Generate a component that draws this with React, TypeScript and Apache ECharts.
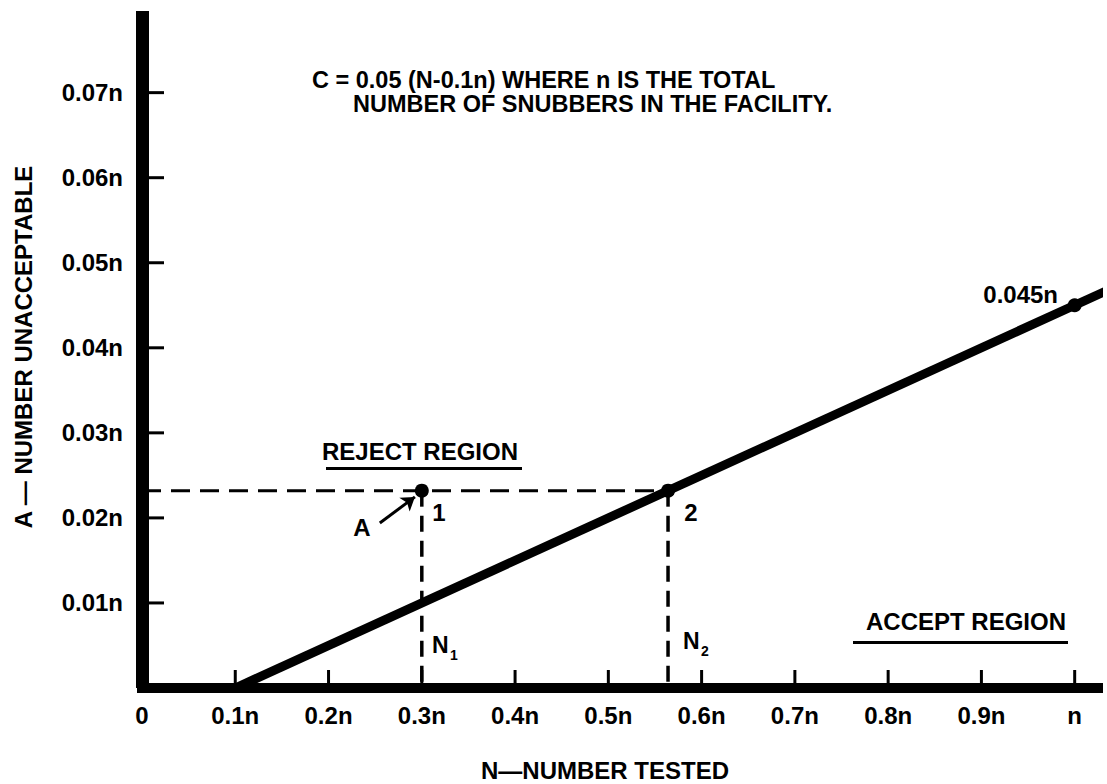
import React, { useEffect, useRef } from "react";
import * as echarts from "echarts";

// ---- data ----
const xTickValues = [0, 0.1, 0.2, 0.3, 0.4, 0.5, 0.6, 0.7, 0.8, 0.9, 1.0];
const xTickLabels = ["0", "0.1n", "0.2n", "0.3n", "0.4n", "0.5n", "0.6n", "0.7n", "0.8n", "0.9n", "n"];
const yTickValues = [0.01, 0.02, 0.03, 0.04, 0.05, 0.06, 0.07];
const yTickLabels = ["0.01n", "0.02n", "0.03n", "0.04n", "0.05n", "0.06n", "0.07n"];

// C = 0.05 (N - 0.1n): acceptance line end points
const lineX = [0.1, 1.06];
const lineY = [0, 0.048];

// marked points: 1 (A at N1), 2 (on line at N2), 0.045n at N = n
const pointX = [0.3, 0.564, 1.0];
const pointY = [0.0232, 0.0232, 0.045];

// arrow from label "A" to point 1
const arrowFrom = [0.255, 0.0194];
const arrowTo = [0.2926, 0.02247];

const FONT = '"Liberation Sans", Arial, Helvetica, sans-serif';
const INK = "#000";

function txt(text: string, x: number, y: number, size: number, align = "left", extra: any = {}) {
  return {
    type: "text",
    x,
    y,
    silent: true,
    ...extra,
    style: {
      text,
      fill: INK,
      fontFamily: FONT,
      fontWeight: "bold",
      fontSize: size,
      align,
      textAlign: align,
      verticalAlign: "middle",
      textVerticalAlign: "middle",
    },
  };
}

export default function App() {
  const ref = useRef<HTMLDivElement>(null);
  useEffect(() => {
    if (!ref.current) return;
    const chart = echarts.init(ref.current, undefined, { renderer: "svg" });

    const labelIndex = (v: number, step: number) => {
      const k = Math.round(v / step);
      return Math.abs(v / step - k) < 1e-6 ? k : -1;
    };

    const option: any = {
      animation: false,
      backgroundColor: "#fff",
      grid: { left: 142, right: 9, top: 11, bottom: 96, outerBoundsMode: "none", containLabel: false },
      xAxis: {
        type: "value",
        min: 0,
        max: 1.025,
        interval: 0.1,
        axisLine: { show: true, onZero: false, lineStyle: { color: INK, width: 10, cap: "square" } },
        axisTick: { show: false },
        splitLine: { show: false },
        axisLabel: {
          color: INK,
          fontFamily: FONT,
          fontWeight: "bold",
          fontSize: 24,
          margin: 15,
          showMaxLabel: false,
          formatter: (v: number) => {
            const k = labelIndex(v, 0.1);
            return k >= 0 && k < xTickLabels.length ? xTickLabels[k] : "";
          },
        },
      },
      yAxis: {
        type: "value",
        min: 0,
        max: 0.0796,
        interval: 0.01,
        axisLine: { show: true, onZero: false, lineStyle: { color: INK, width: 13, cap: "butt" } },
        axisTick: { show: false },
        splitLine: { show: false },
        axisLabel: {
          color: INK,
          fontFamily: FONT,
          fontWeight: "bold",
          fontSize: 24,
          margin: 19,
          showMaxLabel: false,
          formatter: (v: number) => {
            const k = labelIndex(v, 0.01);
            return k >= 1 && k <= yTickLabels.length ? yTickLabels[k - 1] : "";
          },
        },
      },
      series: [
        {
          name: "xticks",
          type: "scatter",
          silent: true,
          clip: false,
          symbol: "rect",
          symbolSize: [3, 18],
          symbolOffset: [0, -9],
          itemStyle: { color: INK, opacity: 1 },
          data: xTickValues.slice(1).map((v) => [v, 0]),
          z: 3,
        },
        {
          name: "yticks",
          type: "scatter",
          silent: true,
          clip: false,
          symbol: "rect",
          symbolSize: [22, 3],
          symbolOffset: [11, 0],
          itemStyle: { color: INK, opacity: 1 },
          data: yTickValues.map((v) => [0, v]),
          z: 6,
        },
        {
          name: "C line",
          type: "line",
          silent: true,
          clip: false,
          showSymbol: false,
          lineStyle: { color: INK, width: 9 },
          data: lineX.map((x, i) => [x, lineY[i]]),
          z: 4,
        },
        {
          name: "A level",
          type: "line",
          silent: true,
          showSymbol: false,
          lineStyle: { color: INK, width: 3, type: [19, 10] },
          data: [
            [0, pointY[0]],
            [pointX[1], pointY[1]],
          ],
          z: 3,
        },
        {
          name: "N1",
          type: "line",
          silent: true,
          showSymbol: false,
          lineStyle: { color: INK, width: 3.5, type: [16, 9] },
          data: [
            [pointX[0], pointY[0]],
            [pointX[0], 0],
          ],
          z: 3,
        },
        {
          name: "N2",
          type: "line",
          silent: true,
          showSymbol: false,
          lineStyle: { color: INK, width: 3.5, type: [16, 9] },
          data: [
            [pointX[1], pointY[1]],
            [pointX[1], 0],
          ],
          z: 3,
        },
        {
          name: "points",
          type: "scatter",
          silent: true,
          clip: false,
          symbol: "circle",
          symbolSize: 14,
          itemStyle: { color: INK, opacity: 1 },
          data: pointX.map((x, i) => [x, pointY[i]]),
          z: 5,
          markLine: {
            silent: true,
            symbol: ["none", "arrow"],
            symbolSize: 13,
            label: { show: false },
            lineStyle: { color: INK, width: 3, type: "solid", opacity: 1 },
            data: [[{ coord: arrowFrom }, { coord: arrowTo }]],
          },
        },
      ],
      graphic: [
        txt("C = 0.05 (N-0.1n) WHERE n IS THE TOTAL", 312, 80, 23.5),
        txt("NUMBER OF SNUBBERS IN THE FACILITY.", 353, 104, 23.5),
        txt("REJECT REGION", 322, 451, 24),
        { type: "rect", silent: true, shape: { x: 326, y: 467, width: 196, height: 3 }, style: { fill: INK } },
        txt("ACCEPT REGION", 866, 621, 24),
        { type: "rect", silent: true, shape: { x: 853, y: 641, width: 215, height: 3 }, style: { fill: INK } },
        txt("0.045n", 1058, 294, 24, "right"),
        txt("A", 362, 527, 24, "center"),
        txt("1", 439, 512, 24, "center"),
        txt("2", 691, 512, 24, "center"),
        txt("N", 432, 645, 23),
        txt("1", 450, 655, 14),
        txt("N", 683, 641, 23),
        txt("2", 701, 651, 14),
        txt("N\u2014NUMBER TESTED", 605, 770, 24, "center"),
        txt("A \u2014 NUMBER UNACCEPTABLE", 23, 347, 24, "center", { rotation: Math.PI / 2 }),
      ],
    };

    chart.setOption(option);
    return () => chart.dispose();
  }, []);

  return (
    <div
      ref={ref}
      style={{ position: "fixed", left: 0, top: 0, width: 1107, height: 784, background: "#fff" }}
    />
  );
}
